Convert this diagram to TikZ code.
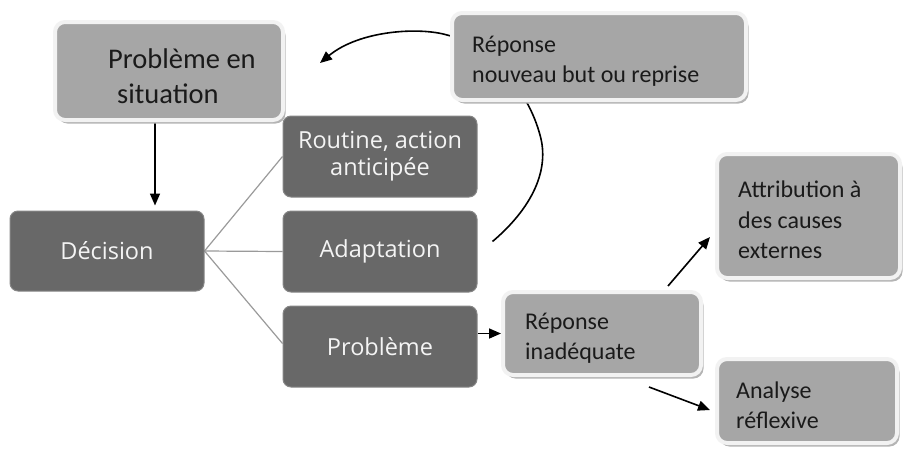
\documentclass[tikz,border=0pt]{standalone}
\usepackage{fontspec}
\setmainfont{Carlito}
\newfontfamily\osans{Open Sans}
\usetikzlibrary{shadows,arrows.meta,calc,backgrounds}
\definecolor{lightbox}{HTML}{A6A6A6}
\definecolor{darkbox}{HTML}{686868}
\definecolor{rimcol}{HTML}{F2F2F2}
\definecolor{shadowcol}{HTML}{B4B4B4}
\definecolor{txtdark}{HTML}{1A1A1A}
\definecolor{txtlight}{HTML}{F4F4F4}
\definecolor{linkgrey}{HTML}{9A9A9A}
\tikzset{
  litebox/.style={rectangle, rounded corners=10pt, fill=lightbox, draw=rimcol, line width=4pt, inner sep=0pt,
    drop shadow={shadow xshift=2.5pt, shadow yshift=-3.5pt, fill=shadowcol, opacity=1}},
  darkbx/.style={rectangle, rounded corners=8pt, fill=darkbox, draw=darkbox!80!white, line width=1pt, inner sep=0pt,
    minimum width=194pt, minimum height=81pt, text=txtlight, align=center,
    font=\osans\fontsize{23.5}{27}\selectfont},
  litetext/.style={anchor=west, inner sep=0pt, align=left, text=txtdark},
  arr/.style={line width=1.6pt, -{Triangle[length=12pt,width=10pt]}},
  branch/.style={line width=1.2pt, draw=linkgrey}
}
\begin{document}
\begin{tikzpicture}[x=1pt,y=-1pt]
\useasboundingbox (0,0) rectangle (904,448);
% light boxes
\node[litebox, minimum width=228pt, minimum height=98pt] (sit) at (169,71) {};
\node[litebox, minimum width=294pt, minimum height=87pt] (rep) at (599,56.5) {};
\node[litebox, minimum width=183pt, minimum height=124pt] (attr) at (808.5,216) {};
\node[litebox, minimum width=198pt, minimum height=83pt] (inad) at (602,333.5) {};
\node[litebox, minimum width=180pt, minimum height=84pt] (anal) at (807,401) {};
% light box texts
\node[litetext, font=\fontsize{28.5}{35}\selectfont] (sittxt) at (108,76) {Problème en\\\hspace*{9pt}situation};
\node[litetext, font=\fontsize{24}{30}\selectfont] (reptxt) at (472,61) {Réponse\\nouveau but ou reprise};
\node[litetext, font=\fontsize{24}{30.5}\selectfont] (attrtxt) at (738,220) {Attribution à\\des causes\\externes};
\node[litetext, font=\fontsize{24}{29.5}\selectfont] (inadtxt) at (525,338) {Réponse\\inadéquate};
\node[litetext, font=\fontsize{24}{30}\selectfont] (analtxt) at (736,405) {Analyse\\réflexive};
% dark boxes
\node[darkbx] (rout) at (380,156.5) {Routine, action\\anticipée};
\node[darkbx] (adap) at (380,251.5) {Adaptation};
\node[darkbx] (prob) at (380,346.5) {Problème};
\node[darkbx, minimum height=80pt] (dec) at (107,251) {Décision};
% connectors
\begin{scope}[on background layer]
\draw[branch] (dec.east) -- (rout.west);
\draw[branch] (dec.east) -- (adap.west);
\draw[branch] (dec.east) -- ($(prob.west)+(0,-3)$);
\draw[arr] (sit.south -| 155,0) -- ($(dec.north -| 155,0)+(0,-5)$);
\draw[arr] (prob.east |- inad.west) -- (inad.west);
\draw[arr] ($(inad.north east)+(-35,-4)$) -- ($(attr.west)+(-5,21)$);
\draw[arr] ($(inad.south east)+(-54,10)$) -- ($(anal.west)+(-5,9)$);
\draw[arr] ($(adap.east)+(15,-10)$) .. controls (532,208) and (550,170) .. (540,135)
   .. controls (528,90) and (490,45) .. (447,35)
   .. controls (420,27) and (360,30) .. ($(sit.east)+(35,-8)$);
\end{scope}
\end{tikzpicture}
\end{document}
